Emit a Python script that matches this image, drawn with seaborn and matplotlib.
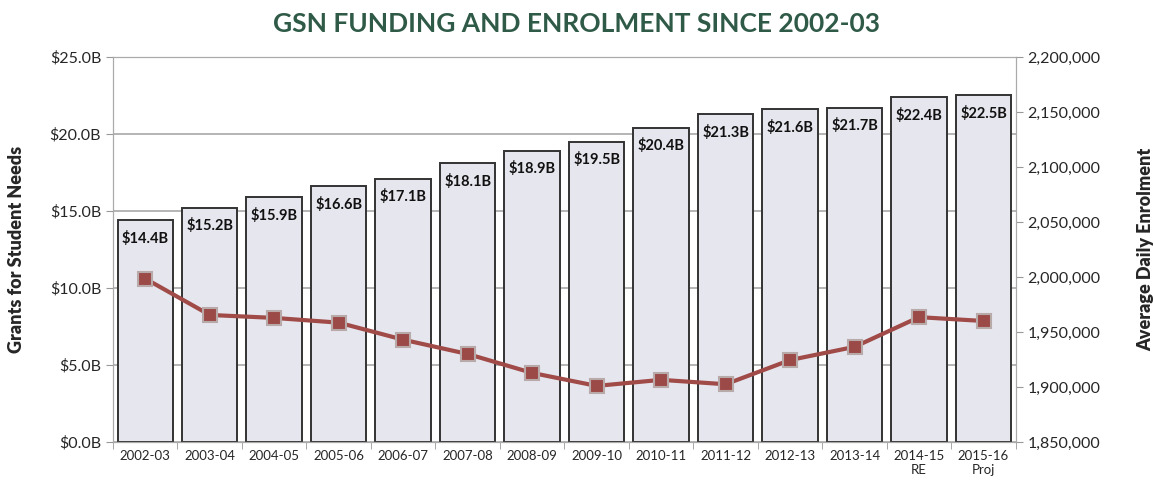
import matplotlib
matplotlib.use('Agg')
import matplotlib.pyplot as plt
import matplotlib.ticker as mticker
import seaborn as sns
import numpy as np
import pandas as pd

# Dati
years = ['2002-03', '2003-04', '2004-05', '2005-06', '2006-07', '2007-08', '2008-09',
         '2009-10', '2010-11', '2011-12', '2012-13', '2013-14', '2014-15\nRE', '2015-16\nProj']
funding = [14.4, 15.2, 15.9, 16.6, 17.1, 18.1, 18.9, 19.5, 20.4, 21.3, 21.6, 21.7, 22.4, 22.5]
enrolment = [1998500, 1965500, 1962800, 1958500, 1943000, 1930000, 1912800,
             1901000, 1906500, 1902500, 1924500, 1936500, 1963500, 1960000]

df = pd.DataFrame({'year': years, 'funding': funding, 'enrolment': enrolment})

sns.set_style('white')
plt.rcParams['font.family'] = ['Lato', 'DejaVu Sans']

fig = plt.figure(figsize=(11.53, 4.87), dpi=100)
ax = fig.add_axes([0.098, 0.0924, 0.783, 0.7906])

# barre
sns.barplot(data=df, x='year', y='funding', ax=ax, color='#e6e6ee',
            edgecolor='#333333', linewidth=1.4, width=0.86, saturation=1, zorder=2)
ax.set_ylim(0, 25)
ax.set_xlim(-0.5, len(years) - 0.5)
ax.yaxis.set_major_locator(mticker.MultipleLocator(5))
ax.yaxis.set_major_formatter(mticker.FuncFormatter(lambda v, p: f'${v:.1f}B'))
ax.grid(True, axis='y', color='#a8a8a8', linewidth=1.2, zorder=0)
ax.set_axisbelow(True)
ax.set_xlabel('')
ax.set_ylabel('Grants for Student Needs', fontsize=13, fontweight='heavy', labelpad=18)

for i, v in enumerate(funding):
    ax.annotate(f'${v:.1f}B', (i, v), xytext=(0, -13), textcoords='offset points',
                ha='center', va='center', fontsize=10.5, fontweight='bold', color='#111111')

ax.tick_params(axis='y', labelsize=11.5, length=5, color='#999999', direction='out', left=True)
ax.tick_params(axis='x', which='major', labelsize=9.5, length=0, pad=6)
ax.set_xticks(np.arange(len(years) + 1) - 0.5, minor=True)
ax.tick_params(axis='x', which='minor', length=5, color='#999999', bottom=True)
for s in ax.spines.values():
    s.set_color('#aaaaaa')

# linea iscrizioni
ax2 = ax.twinx()
sns.lineplot(x=np.arange(len(years)), y=enrolment, ax=ax2, color='#a04b48', linewidth=3,
             marker='s', markersize=10, markerfacecolor='#9c4a48', markeredgecolor='#b9aaaa',
             markeredgewidth=1.5, zorder=5)
ax2.set_ylim(1850000, 2200000)
ax2.yaxis.set_major_locator(mticker.MultipleLocator(50000))
ax2.yaxis.set_major_formatter(mticker.FuncFormatter(lambda v, p: f'{int(v):,}'))
ax2.tick_params(axis='y', labelsize=11.5, length=5, color='#999999', direction='out', right=True)
ax2.set_ylabel('Average Daily Enrolment', fontsize=13, fontweight='heavy', labelpad=26)
for s in ax2.spines.values():
    s.set_color('#aaaaaa')

fig.suptitle('GSN FUNDING AND ENROLMENT SINCE 2002-03', fontsize=19, fontweight='bold',
             color='#2f5a48', y=0.975)

fig.savefig('out.png', dpi=100)
